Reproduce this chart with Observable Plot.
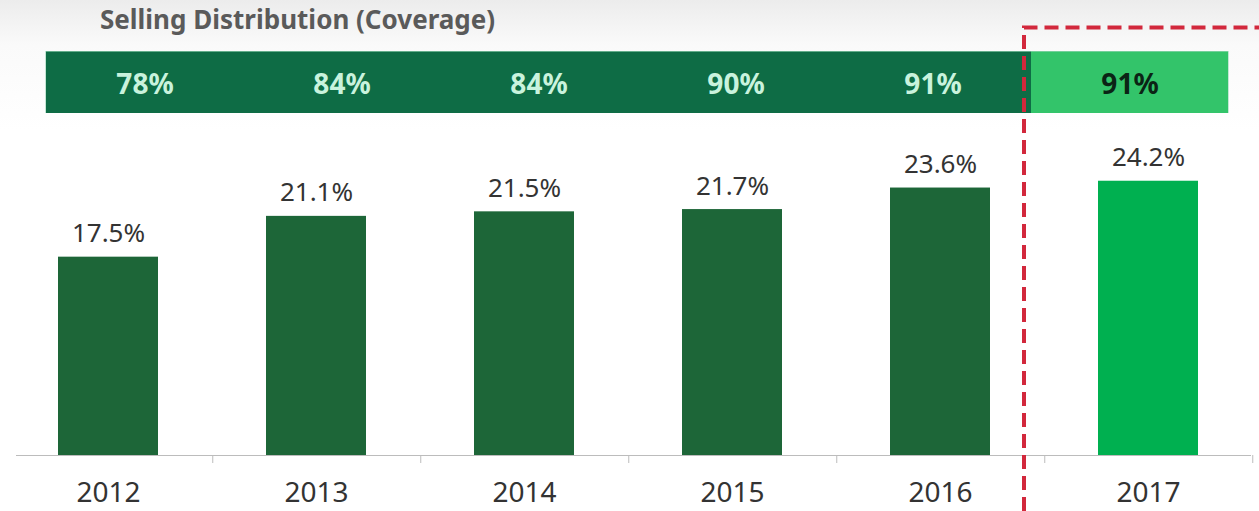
<!DOCTYPE html>
<html><head><meta charset="utf-8">
<script src="https://cdn.jsdelivr.net/npm/d3@7"></script>
<script src="https://cdn.jsdelivr.net/npm/@observablehq/plot@0.6"></script>
<style>
body{margin:0;background:#fff;}
#wrap{position:relative;width:1259px;height:511px;overflow:hidden;background:linear-gradient(#ececec 0px,#fafafa 45px,#ffffff 130px);}
#title{position:absolute;left:100px;top:1px;font:bold 26px "Noto Sans";color:#5a5a5a;white-space:nowrap;line-height:36px;}
#band{position:absolute;left:0;top:51px;}
#main{position:absolute;left:0;top:0;}
</style></head><body>
<div id="wrap"><div id="band"></div><div id="main"></div><div id="title">Selling Distribution (Coverage)</div></div>
<script>
const years = ["2012", "2013", "2014", "2015", "2016", "2017"];
const share = [17.5, 21.1, 21.5, 21.7, 23.6, 24.2];
const coverage = [78, 84, 84, 90, 91, 91];
const highlight = "2017";
const colors = {bar: "#1d6638", barHi: "#00b050", band: "#0e6c45", bandHi: "#33c46a",
  bandText: "#c9f3dd", bandTextHi: "#0b2415", red: "#d2283c", axis: "#bcbcbc", text: "#333333"};
const rows = years.map((year, i) => ({year, share: share[i], coverage: coverage[i], hi: year === highlight}));

const band = Plot.plot({
  width: 1259, height: 62, marginLeft: 45, marginRight: 31, marginTop: 0, marginBottom: 0,
  x: {domain: years, padding: 0, axis: null},
  style: {background: "transparent", fontFamily: "Noto Sans"},
  marks: [
    Plot.cell(rows, {x: "year", fill: d => d.hi ? colors.bandHi : colors.band, inset: 0}),
    Plot.frame({stroke: "#9fd9ba", strokeOpacity: 0.6}),
    Plot.text(rows, {x: "year", text: d => d.coverage + "%", fill: d => d.hi ? colors.bandTextHi : colors.bandText,
      fontSize: 28, fontWeight: "bold", dy: 3})
  ]
});
document.getElementById("band").appendChild(band);

function highlightBox(index, scales, values, dims) {
  const x = scales.x;
  const bw = typeof x.bandwidth === "function" ? x.bandwidth() : 100;
  const step = typeof x.step === "function" ? x.step() : 208.5;
  const xv = x(highlight) - (step - bw) / 2 - 20;
  return d3.create("svg:path")
    .attr("d", `M${xv},${dims.height}V27.5H${dims.width}`)
    .attr("fill", "none").attr("stroke", colors.red)
    .attr("stroke-width", 4).attr("stroke-dasharray", "14,7")
    .node();
}

const main = Plot.plot({
  width: 1259, height: 511, marginTop: 115, marginBottom: 56, marginLeft: 2, marginRight: 6,
  x: {domain: years, paddingInner: 0.52, paddingOuter: 0.26, label: null},
  y: {domain: [0, 30], axis: null},
  style: {background: "transparent", fontFamily: "Noto Sans"},
  marks: [
    Plot.barY(rows, {x: "year", y: "share", fill: d => d.hi ? colors.barHi : colors.bar}),
    Plot.text(rows, {x: "year", y: "share", text: d => d.share.toFixed(1) + "%", dy: -15,
      lineAnchor: "bottom", fontSize: 26, fill: colors.text}),
    Plot.ruleY([0], {stroke: colors.axis, insetLeft: 14, insetRight: 2}),
    Plot.axisX({tickSize: 0, tickPadding: 27, fontSize: 28, fill: colors.text, label: null}),
    Plot.axisX({tickSize: 8, tickFormat: () => "", dx: 104.25, stroke: colors.axis, label: null}),
    highlightBox
  ]
});
document.getElementById("main").appendChild(main);
</script>
</body></html>
